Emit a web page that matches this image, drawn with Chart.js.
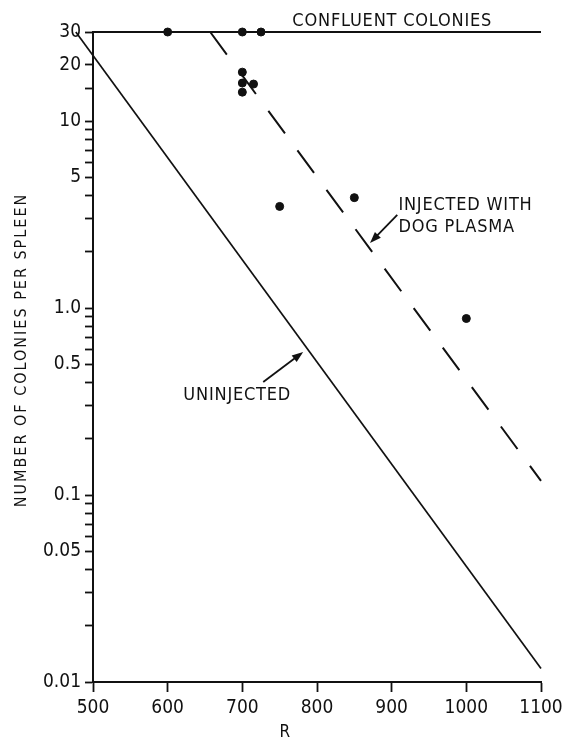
<!DOCTYPE html>
<html>
<head>
<meta charset="utf-8">
<script src="https://cdn.jsdelivr.net/npm/chart.js@4/dist/chart.umd.min.js"></script>
<style>
  body { margin: 0; background: #fff; }
  #wrap { width: 568px; height: 750px; }
</style>
</head>
<body>
<div id="wrap"><canvas id="colonies-chart" width="568" height="750"></canvas></div>
<script>
// measured spleens (R dose, colonies per spleen)
const point_r = [600, 700, 725, 700, 700, 700, 715, 750, 850, 1000]
const point_count = [30, 30, 30, 18.3, 16, 14.3, 15.8, 3.5, 3.9, 0.88]

// confluent ceiling
const confluent_r = [500, 1100]
const confluent_count = [30, 30]

// uninjected curve
const uninjected_r = [477, 1100]
const uninjected_count = [30, 0.0118]

// injected with dog plasma curve
const dog_r = [657, 1100]
const dog_count = [30, 0.119]

const x_ticks = [500, 600, 700, 800, 900, 1000, 1100]
const y_ticks = [0.01, 0.02, 0.03, 0.04, 0.05, 0.06, 0.07, 0.08, 0.09,
                 0.1, 0.2, 0.3, 0.4, 0.5, 0.6, 0.7, 0.8, 0.9,
                 1, 2, 3, 4, 5, 6, 7, 8, 9, 10, 15, 20, 30]
const y_labeled = [0.01, 0.05, 0.1, 0.5, 1, 5, 10, 20, 30]
const y_label_text = ['0.01', '0.05', '0.1', '0.5', '1.0', '5', '10', '20', '30']

const font_family = '"DejaVu Sans Condensed", "Liberation Sans Narrow", sans-serif'

function pairs(xs, ys) {
    let out = []
    for (let i = 0; i < xs.length; i++) {
        out.push({x: xs[i], y: ys[i]})
    }
    return out
}

function arrow(ctx, x1, y1, x2, y2) {
    let ang = Math.atan2(y2 - y1, x2 - x1)
    let len = 12
    ctx.beginPath()
    ctx.moveTo(x1, y1)
    ctx.lineTo(x2 - Math.cos(ang) * len * 0.7, y2 - Math.sin(ang) * len * 0.7)
    ctx.stroke()
    ctx.beginPath()
    ctx.moveTo(x2, y2)
    ctx.lineTo(x2 - Math.cos(ang - 0.35) * len, y2 - Math.sin(ang - 0.35) * len)
    ctx.lineTo(x2 - Math.cos(ang + 0.35) * len, y2 - Math.sin(ang + 0.35) * len)
    ctx.closePath()
    ctx.fill()
}

// text labels and arrows, placed in data units
const notes_plugin = {
    id: 'notes',
    afterDraw(chart) {
        let ctx = chart.ctx
        let xs = chart.scales.x
        let ys = chart.scales.y
        let px = v => xs.getPixelForValue(v)
        let py = v => ys.getPixelForValue(v)

        ctx.save()
        ctx.fillStyle = '#111'
        ctx.strokeStyle = '#111'
        ctx.lineWidth = 1.8
        ctx.font = '18px ' + font_family
        ctx.textBaseline = 'alphabetic'
        ctx.textAlign = 'left'
        ctx.letterSpacing = '0.8px'

        ctx.fillText('CONFLUENT COLONIES', px(767), py(32.3))
        ctx.fillText('INJECTED WITH', px(909), py(3.35))
        ctx.fillText('DOG PLASMA', px(909), py(2.55))
        ctx.fillText('UNINJECTED', px(621), py(0.323))

        arrow(ctx, px(907.5), py(3.15), px(871), py(2.23))
        arrow(ctx, px(728), py(0.403), px(781.5), py(0.583))

        // axis titles
        ctx.font = '16px ' + font_family
        ctx.letterSpacing = '2px'
        ctx.textAlign = 'center'
        ctx.textBaseline = 'middle'
        ctx.save()
        ctx.translate(22, py(0.597))
        ctx.rotate(-Math.PI / 2)
        ctx.fillText('NUMBER OF COLONIES PER SPLEEN', 0, 0)
        ctx.restore()

        ctx.letterSpacing = '0px'
        ctx.font = '17px ' + font_family
        ctx.fillText('R', px(757), 733)
        ctx.restore()
    }
}

let ctx = document.getElementById('colonies-chart')

let data = {
    datasets: [
        {
            type: 'line',
            label: 'Confluent colonies',
            data: pairs(confluent_r, confluent_count),
            borderColor: '#111',
            borderWidth: 2,
            pointRadius: 0,
            clip: false,
        },
        {
            type: 'line',
            label: 'Uninjected',
            data: pairs(uninjected_r, uninjected_count),
            borderColor: '#111',
            borderWidth: 1.7,
            pointRadius: 0,
            clip: false,
        },
        {
            type: 'line',
            label: 'Injected with dog plasma',
            data: pairs(dog_r, dog_count),
            borderColor: '#111',
            borderWidth: 2,
            borderDash: [28, 21],
            pointRadius: 0,
            clip: false,
        },
        {
            type: 'scatter',
            label: 'Spleens',
            data: pairs(point_r, point_count),
            backgroundColor: '#111',
            borderColor: '#111',
            pointRadius: 4,
            clip: false,
        },
    ]
}

let options = {
    responsive: false,
    animation: false,
    layout: {
        padding: {top: 32, right: 27, left: 0, bottom: 0}
    },
    plugins: {
        legend: {display: false},
        tooltip: {enabled: false},
    },
    scales: {
        x: {
            type: 'linear',
            min: 500,
            max: 1100,
            afterBuildTicks: scale => {
                scale.ticks = x_ticks.map(v => ({value: v}))
            },
            afterFit: scale => {
                scale.height = 68
            },
            grid: {
                drawOnChartArea: false,
                drawTicks: true,
                tickLength: 10,
                tickWidth: 1.8,
                tickColor: '#111',
            },
            border: {display: true, color: '#111', width: 2},
            ticks: {
                color: '#111',
                padding: 5,
                maxRotation: 0,
                font: {family: font_family, size: 19},
                callback: value => String(value),
            },
        },
        y: {
            type: 'logarithmic',
            min: 0.01,
            max: 30,
            afterBuildTicks: scale => {
                scale.ticks = y_ticks.map(v => ({value: v}))
            },
            afterFit: scale => {
                scale.width = 93
            },
            grid: {
                drawOnChartArea: false,
                drawTicks: true,
                tickLength: 8,
                tickWidth: 1.8,
                tickColor: '#111',
            },
            border: {display: true, color: '#111', width: 2},
            ticks: {
                color: '#111',
                padding: 4,
                autoSkip: false,
                font: {family: font_family, size: 19},
                callback: function (value) {
                    for (let i = 0; i < y_labeled.length; i++) {
                        if (Math.abs(value - y_labeled[i]) < y_labeled[i] * 1e-6) {
                            return y_label_text[i]
                        }
                    }
                    return ''
                }
            },
        },
    }
}

let my_chart = new Chart(ctx, {
    data: data,
    options: options,
    plugins: [notes_plugin],
})
</script>
</body>
</html>
